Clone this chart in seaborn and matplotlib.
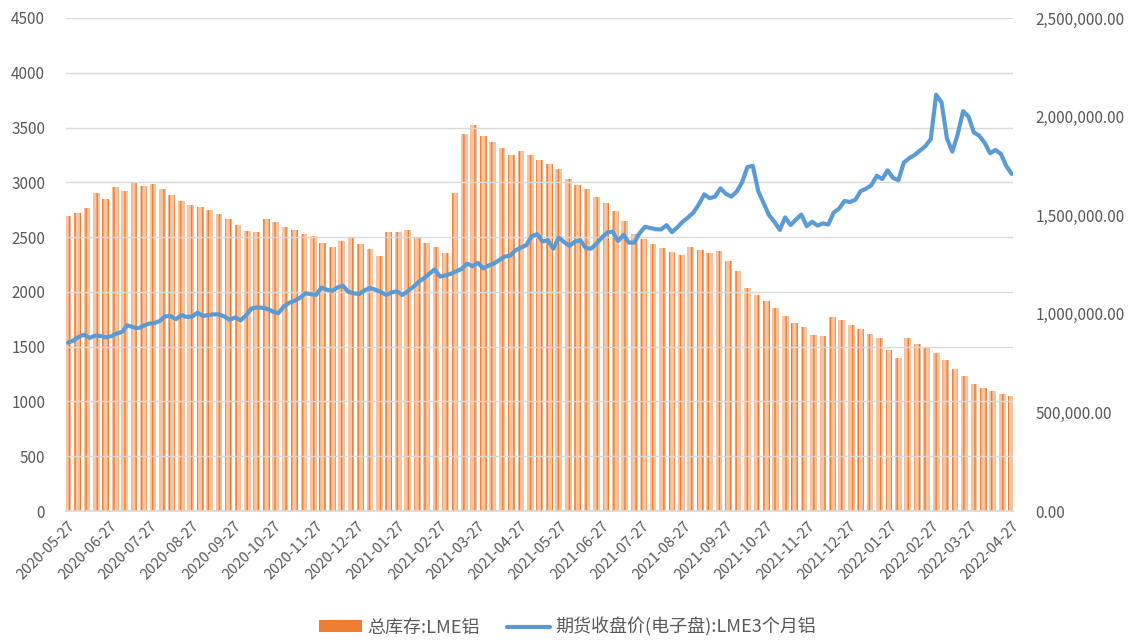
import matplotlib
matplotlib.use('Agg')
import numpy as np
import pandas as pd
import matplotlib.pyplot as plt
import matplotlib.ticker as mticker
import matplotlib.dates as mdates
from matplotlib.patches import Patch
from matplotlib.lines import Line2D
import seaborn as sns

# 每周库存（吨），2020-05-27 起每 7 天一个值
stock_dates = pd.date_range('2020-05-27', '2022-04-27', freq='7D')
stock_tons = [
    1494000, 1511000, 1539000, 1611000, 1583000, 1642000, 1625000, 1667000, 1650000, 1656000,
    1633000, 1600000, 1572000, 1550000, 1544000, 1528000, 1506000, 1481000, 1450000, 1422000,
    1414000, 1481000, 1464000, 1442000, 1425000, 1406000, 1394000, 1361000, 1339000, 1367000,
    1383000, 1356000, 1331000, 1294000, 1413000, 1417000, 1425000, 1389000, 1361000, 1339000,
    1308000, 1611000, 1911000, 1958000, 1900000, 1872000, 1839000, 1806000, 1828000, 1806000,
    1778000, 1758000, 1733000, 1683000, 1653000, 1633000, 1594000, 1561000, 1522000, 1472000,
    1406000, 1378000, 1356000, 1333000, 1311000, 1300000, 1340000, 1322000, 1308000, 1319000,
    1267000, 1217000, 1133000, 1094000, 1064000, 1028000, 989000, 953000, 931000, 894000,
    889000, 983000, 969000, 944000, 922000, 897000, 875000, 817000, 778000, 875000,
    847000, 825000, 800000, 767000, 722000, 686000, 644000, 622000, 608000, 594000,
    581000,
]

# LME3个月铝收盘价（美元/吨），2020-05-27 起每 4 天一个值
price_dates = pd.date_range('2020-05-27', '2022-04-27', freq='4D')
price_usd = [
    1537, 1555, 1590, 1610, 1580, 1600, 1598, 1585, 1595, 1620,
    1635, 1695, 1680, 1668, 1690, 1710, 1715, 1735, 1776, 1780,
    1750, 1788, 1772, 1775, 1810, 1781, 1788, 1795, 1795, 1775,
    1745, 1768, 1740, 1785, 1848, 1858, 1855, 1845, 1820, 1805,
    1865, 1900, 1918, 1945, 1988, 1980, 1972, 2040, 2020, 2010,
    2042, 2056, 2000, 1988, 1980, 2015, 2036, 2020, 2000, 1972,
    1995, 2005, 1972, 2005, 2045, 2090, 2125, 2165, 2205, 2140,
    2150, 2165, 2188, 2210, 2258, 2235, 2265, 2215, 2240, 2260,
    2290, 2323, 2330, 2380, 2405, 2427, 2510, 2527, 2460, 2470,
    2395, 2495, 2455, 2420, 2458, 2472, 2400, 2395, 2442, 2495,
    2543, 2550, 2465, 2520, 2450, 2450, 2535, 2594, 2583, 2572,
    2570, 2609, 2545, 2590, 2640, 2680, 2725, 2800, 2890, 2855,
    2870, 2945, 2895, 2870, 2915, 3000, 3140, 3150, 2920, 2810,
    2700, 2640, 2566, 2680, 2610, 2660, 2705, 2600, 2640, 2605,
    2625, 2615, 2725, 2760, 2830, 2820, 2840, 2920, 2942, 2975,
    3060, 3030, 3110, 3040, 3020, 3180, 3220, 3250, 3290, 3330,
    3395, 3800, 3730, 3400, 3280, 3440, 3650, 3600, 3455, 3425,
    3360, 3265, 3295, 3260, 3150, 3077,
]

tick_dates = pd.date_range('2020-05-27', '2022-04-27', freq=pd.DateOffset(months=1))

stock_label = '总库存:LME铝'
price_label = '期货收盘价(电子盘):LME3个月铝'

BAR_FACE = '#F8C4A0'
BAR_STRIPE = '#ED7D31'
LINE_COLOR = '#5B9BD5'
TEXT_COLOR = '#595959'
GRID_COLOR = '#D9D9D9'

sns.set_theme(style='white')
plt.rcParams['font.family'] = ['Noto Sans CJK SC', 'DejaVu Sans']
plt.rcParams['hatch.linewidth'] = 1.0

fig = plt.figure(figsize=(11.35, 6.41), dpi=100)
ax = fig.add_axes([66 / 1135, 1 - 511 / 641, (1013 - 66) / 1135, (511 - 18) / 641])
ax2 = ax.twinx()

# 库存柱（右轴），竖线填充模拟逐日细柱
ax2.bar(stock_dates, stock_tons, width=5, facecolor=BAR_FACE, edgecolor=BAR_STRIPE,
        hatch='|||', linewidth=0)

# 价格线（左轴），放在柱子上层
ax.set_zorder(ax2.get_zorder() + 1)
ax.patch.set_visible(False)
sns.lineplot(x=price_dates, y=price_usd, ax=ax, color=LINE_COLOR, linewidth=3.0)

ax.set_xlim(pd.Timestamp('2020-05-27') - pd.Timedelta(days=1.5),
            pd.Timestamp('2022-04-27') + pd.Timedelta(days=1))
ax.set_ylim(0, 4500)
ax.yaxis.set_major_locator(mticker.MultipleLocator(500))
ax2.set_ylim(0, 2500000)
ax2.yaxis.set_major_locator(mticker.MultipleLocator(500000))
ax2.yaxis.set_major_formatter(mticker.FuncFormatter(lambda v, p: f'{v:,.2f}'))

ax.set_xticks(tick_dates)
ax.xaxis.set_major_formatter(mdates.DateFormatter('%Y-%m-%d'))
for lbl in ax.get_xticklabels():
    lbl.set_rotation(45)
    lbl.set_ha('right')
    lbl.set_rotation_mode('anchor')

ax.yaxis.grid(True, color=GRID_COLOR, linewidth=1)
ax.xaxis.grid(False)
ax2.grid(False)
ax.set_xlabel('')
ax.set_ylabel('')

for a in (ax, ax2):
    for s in a.spines.values():
        s.set_visible(False)
ax.spines['bottom'].set_visible(True)
ax.spines['bottom'].set_color(GRID_COLOR)

ax.tick_params(axis='y', length=0, pad=15, labelsize=11, labelcolor=TEXT_COLOR)
ax.tick_params(axis='x', length=0, pad=6, labelsize=10.5, labelcolor=TEXT_COLOR)
ax2.tick_params(axis='y', length=0, pad=16, labelsize=11, labelcolor=TEXT_COLOR)

handles = [
    Patch(facecolor=BAR_STRIPE, edgecolor='none'),
    Line2D([0], [0], color=LINE_COLOR, linewidth=3),
]
fig.legend(handles, [stock_label, price_label], loc='center', bbox_to_anchor=(0.5, 1 - 627 / 641),
           ncol=2, frameon=False, fontsize=13, labelcolor=TEXT_COLOR,
           handlelength=2.4, handleheight=0.6, handletextpad=0.3, columnspacing=1.5)

fig.savefig('out.png', dpi=100)
